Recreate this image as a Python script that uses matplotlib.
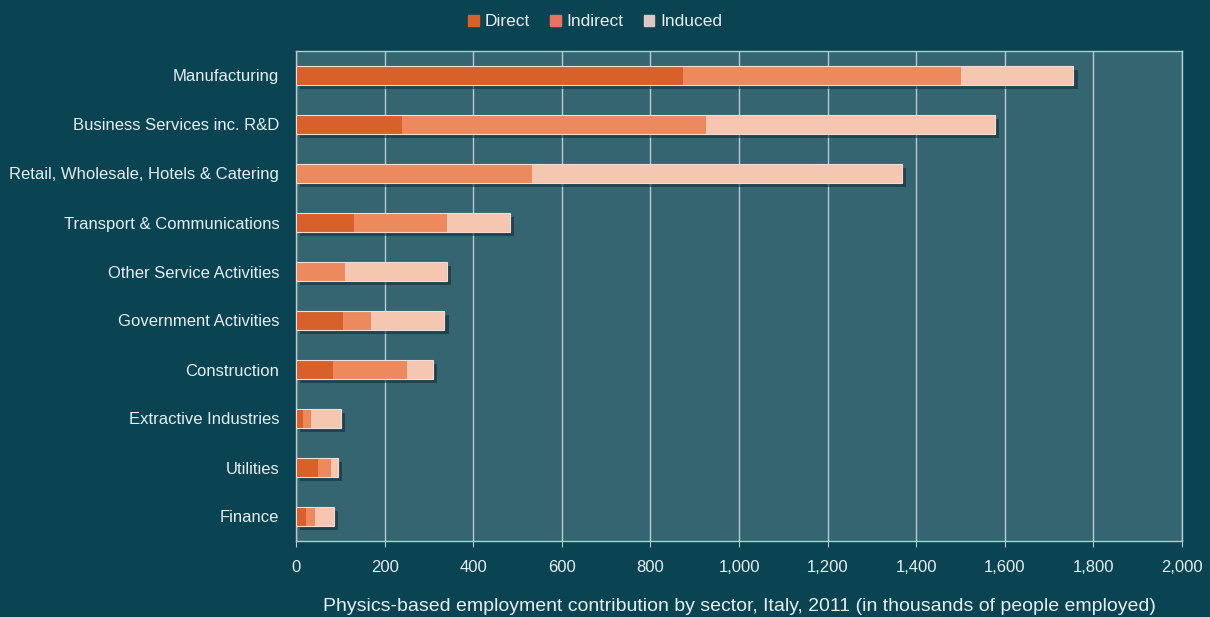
import matplotlib.pyplot as plt
import matplotlib.patheffects as pe
from matplotlib.ticker import FuncFormatter

plt.rcParams['font.family'] = ['Liberation Sans', 'DejaVu Sans']

sectors = ["Manufacturing", "Business Services inc. R&D",
           "Retail, Wholesale, Hotels & Catering", "Transport & Communications",
           "Other Service Activities", "Government Activities", "Construction",
           "Extractive Industries", "Utilities", "Finance"]
direct = [874, 239, 0, 130, 0, 106, 83, 16, 50, 22]
indirect = [627, 686, 533, 211, 111, 63, 168, 17, 28, 22]
induced = [254, 652, 835, 141, 229, 166, 58, 68, 16, 41]
series_names = ["Direct", "Indirect", "Induced"]

BG = "#0a4452"
PANEL = "#356571"
TXT = "#e6eef0"
GRID = "#b9cace"
colors = ["#d8612b", "#ec8a5e", "#f5c6b0"]
legend_colors = ["#d8612b", "#e8735e", "#dcc6c6"]

fig = plt.figure(figsize=(12.1, 6.17), dpi=100, facecolor=BG)
ax = fig.add_axes([296 / 1210, 1 - 541 / 617, 886 / 1210, 490 / 617])
ax.set_facecolor(PANEL)

ypos = list(range(len(sectors)))
totals = [d + i + n for d, i, n in zip(direct, indirect, induced)]

# soft drop shadow under each whole bar, then the stacked segments
shade = ax.barh(ypos, totals, height=0.4, color="none", edgecolor="none", zorder=2)
for b in shade:
    b.set_path_effects([pe.SimplePatchShadow(offset=(3, -3),
                                             shadow_rgbFace="#0d2a33", alpha=0.55)])

left = [0] * len(sectors)
for vals, col in zip([direct, indirect, induced], colors):
    ax.barh(ypos, vals, left=left, height=0.4, color=col, linewidth=0, zorder=3)
    left = [l + v for l, v in zip(left, vals)]

ax.barh(ypos, totals, height=0.4, color="none", edgecolor="#f1ddd4",
        linewidth=0.8, zorder=4)

ax.set_xlim(0, 2000)
ax.set_ylim(len(sectors) - 0.5, -0.5)
ax.set_xticks(range(0, 2001, 200))
ax.xaxis.set_major_formatter(FuncFormatter(lambda v, p: f"{int(v):,}"))
ax.set_yticks(ypos)
ax.set_yticklabels(sectors)
ax.grid(axis="x", color=GRID, linewidth=1.0, zorder=0)
ax.set_axisbelow(True)
for s in ax.spines.values():
    s.set_color(GRID)
    s.set_linewidth(1.0)
ax.tick_params(axis="x", colors=GRID, labelcolor=TXT, labelsize=12,
               length=4, pad=10)
ax.tick_params(axis="y", length=0, labelcolor=TXT, labelsize=12, pad=12)
ax.set_xlabel("Physics-based employment contribution by sector, Italy, 2011 "
              "(in thousands of people employed)", color=TXT, fontsize=14,
              labelpad=16)

handles = [plt.Rectangle((0, 0), 1, 1, color=c) for c in legend_colors]
fig.legend(handles, series_names, loc="upper center", ncol=3,
           bbox_to_anchor=(0.492, 1.002), frameon=False, fontsize=12.5,
           labelcolor=TXT, handlelength=0.6, handleheight=0.6,
           handletextpad=0.35, columnspacing=1.15)

fig.savefig("out.png", dpi=100, facecolor=BG)
